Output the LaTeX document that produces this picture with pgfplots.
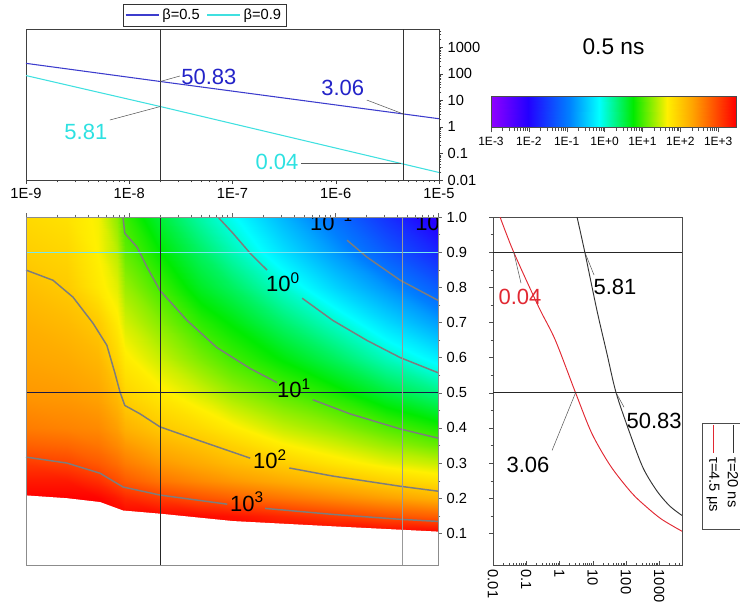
\documentclass[border=0pt]{standalone}
\usepackage{pgfplots}
\pgfplotsset{compat=1.18}
\usepackage{fontspec}
\setmainfont{Liberation Sans}
\definecolor{bl5}{RGB}{60,60,205}
\definecolor{bltext}{RGB}{35,35,200}
\definecolor{cy9}{RGB}{64,224,224}
\definecolor{cytext}{RGB}{45,225,225}
\definecolor{redline}{RGB}{225,40,50}
\definecolor{cgray}{RGB}{125,125,125}
\definecolor{hcyan}{RGB}{120,230,240}
\definecolor{hnavy}{RGB}{25,25,70}
\newcommand{\tf}{\fontsize{11}{13}\selectfont}
\newcommand{\af}{\fontsize{16.5}{19}\selectfont}
\pgfplotsset{
  /pgf/number format/assume math mode=true,
  enlargelimits=false,
  rainbowmap/.style={colormap={rb}{rgb255(0cm)=(145,0,255); rgb255(1.5cm)=(35,0,255); rgb255(3.2cm)=(0,128,255); rgb255(4.4cm)=(0,255,255); rgb255(5.8cm)=(0,235,0); rgb255(7.2cm)=(255,240,0); rgb255(8.2cm)=(255,165,0); rgb255(9.2cm)=(255,75,0); rgb255(10cm)=(255,0,0)}},
  taux/.style={xtick={1e-9,1e-8,1e-7,1e-6,1e-5},
    minor xtick={2e-9,3e-9,4e-9,5e-9,6e-9,7e-9,8e-9,9e-9,2e-8,3e-8,4e-8,5e-8,6e-8,7e-8,8e-8,9e-8,2e-7,3e-7,4e-7,5e-7,6e-7,7e-7,8e-7,9e-7,2e-6,3e-6,4e-6,5e-6,6e-6,7e-6,8e-6,9e-6}},
}
\begin{document}
\begin{tikzpicture}
\useasboundingbox (0,0) rectangle (555pt,456pt);
% ---------------- top panel ----------------
\begin{axis}[
  at={(19.5pt,321pt)}, anchor=south west, scale only axis,
  width=309.75pt, height=113.25pt,
  xmode=log, ymode=log, xmin=1e-9, xmax=1e-5, ymin=0.01, ymax=4800,
  taux, xticklabels={1E-9,1E-8,1E-7,1E-6,1E-5},
  ytick={0.01,0.1,1,10,100,1000}, yticklabels={0.01,0.1,1,10,100,1000},
  minor ytick={0.02,0.03,0.04,0.05,0.06,0.07,0.08,0.09,0.2,0.3,0.4,0.5,0.6,0.7,0.8,0.9,2,3,4,5,6,7,8,9,20,30,40,50,60,70,80,90,200,300,400,500,600,700,800,900,2000,3000,4000},
  xtick pos=left, ytick pos=right, yticklabel pos=right,
  tick align=outside, major tick length=3pt, minor tick length=1.8pt,
  tick label style={font=\tf}, axis line style={black!75}, tick style={black!75},
  legend columns=2,
  legend style={at={(0.432,1)}, anchor=south, yshift=2pt, draw=black!80, font=\tf, inner sep=1.5pt,
    /tikz/every even column/.append style={column sep=3pt}},
  legend image code/.code={\draw[#1, line width=1pt] (0pt,0pt) -- (25pt,0pt);},
]
\addplot[bl5, line width=0.8pt] coordinates {(1e-9,245) (2e-8,50.83) (4.5e-6,3.06) (1e-5,2.02)};
\addlegendentry{β=0.5}
\addplot[cy9, line width=0.8pt] coordinates {(1e-9,85) (2e-8,5.81) (4.5e-6,0.04) (1e-5,0.0192)};
\addlegendentry{β=0.9}
\addplot[black!80, forget plot] coordinates {(2e-8,0.01) (2e-8,4800)};
\addplot[black!80, forget plot] coordinates {(4.5e-6,0.01) (4.5e-6,4800)};
\addplot[black!65, forget plot] coordinates {(2e-8,50.83) (3.1e-8,82)};
\addplot[black!65, forget plot] coordinates {(4.5e-6,3.06) (2.0e-6,10.2)};
\addplot[black!65, forget plot] coordinates {(2e-8,5.81) (6.5e-9,1.81)};
\addplot[black!65, forget plot] coordinates {(4.3e-6,0.041) (4.6e-7,0.041)};
\node[font=\af, text=bltext] at (axis cs:5.9e-8,75) {50.83};
\node[font=\af, text=bltext] at (axis cs:1.17e-6,29) {3.06};
\node[font=\af, text=cytext] at (axis cs:3.8e-9,0.64) {5.81};
\node[font=\af, text=cytext] at (axis cs:2.7e-7,0.0475) {0.04};
\end{axis}
% ---------------- colour scale ----------------
\begin{axis}[
  at={(368.25pt,360.75pt)}, anchor=south west, scale only axis,
  width=183.75pt, height=23.25pt,
  xmode=log, xmin=1e-3, xmax=2951, ymin=0, ymax=1,
  xtick={1e-3,1e-2,1e-1,1,10,100,1000}, xticklabels={1E-3,1E-2,1E-1,1E+0,1E+1,1E+2,1E+3},
  minor xtick={}, ytick=\empty, xtick pos=left,
  xticklabel style={font=\fontsize{9}{10}\selectfont},
  tick align=outside, major tick length=4pt,
  axis line style={black!70}, tick style={black!70}, axis on top,
  rainbowmap, point meta min=-3, point meta max=3.47,
  title={0.5 ns}, title style={at={(0.5,1)}, anchor=base, yshift=24.75pt, font=\fontsize{17}{19}\selectfont},
]
\addplot[surf, shader=interp, mesh/cols=9, point meta=explicit] table[x=t, y=b, meta=z] {
t b z
1e-3 0 -3
9.33e-3 0 -2.03
0.1175 0 -0.93
0.703 0 -0.153
5.66 0 0.753
45.5 0 1.658
201.8 0 2.305
895 0 2.952
2951 0 3.47
1e-3 1 -3
9.33e-3 1 -2.03
0.1175 1 -0.93
0.703 1 -0.153
5.66 1 0.753
45.5 1 1.658
201.8 1 2.305
895 1 2.952
2951 1 3.47
};
\end{axis}
% ---------------- heat map ----------------
\begin{axis}[
  at={(19.5pt,32.25pt)}, anchor=south west, scale only axis,
  width=309pt, height=261pt,
  xmode=log, xmin=1e-9, xmax=1e-5, ymin=0.01, ymax=1,
  taux, xticklabels=\empty, xtick pos=right,
  ytick={0.1,0.2,0.3,0.4,0.5,0.6,0.7,0.8,0.9,1}, minor y tick num=1,
  ytick pos=right, yticklabel pos=right,
  yticklabel style={/pgf/number format/.cd, fixed, fixed zerofill, precision=1},
  tick align=outside, major tick length=3pt, minor tick length=1.8pt,
  tick label style={font=\tf}, axis line style={black!45}, tick style={black!60},
  axis on top, rainbowmap, point meta min=-3, point meta max=3.47,
]
\addplot[surf, shader=interp, mesh/cols=12, point meta=explicit] table[x=t, y=b, meta=z] {
t b z
1e-9 0.1 3.47
2.512e-9 0.1 3.47
5.012e-9 0.1 3.47
7.586e-9 0.1 3.47
9.12e-9 0.1 3.47
1.995e-8 0.1 3.47
5.012e-8 0.1 3.47
1e-7 0.1 3.47
3.162e-7 0.1 3.47
1e-6 0.1 3.47
3.162e-6 0.1 3.47
1e-5 0.1 3.47
1e-9 0.15 3.47
2.512e-9 0.15 3.47
5.012e-9 0.15 3.47
7.586e-9 0.15 3.47
9.12e-9 0.15 3.47
1.995e-8 0.15 3.45
5.012e-8 0.15 3.4
1e-7 0.15 3.35
3.162e-7 0.15 3.2
1e-6 0.15 3.05
3.162e-6 0.15 2.9
1e-5 0.15 2.8
1e-9 0.2 3.47
2.512e-9 0.2 3.47
5.012e-9 0.2 3.45
7.586e-9 0.2 3.3
9.12e-9 0.2 3.2
1.995e-8 0.2 3.05
5.012e-8 0.2 2.9
1e-7 0.2 2.8
3.162e-7 0.2 2.65
1e-6 0.2 2.5
3.162e-6 0.2 2.35
1e-5 0.2 2.2
1e-9 0.25 3.3
2.512e-9 0.25 3.3
5.012e-9 0.25 3.15
7.586e-9 0.25 2.95
9.12e-9 0.25 2.85
1.995e-8 0.25 2.65
5.012e-8 0.25 2.5
1e-7 0.25 2.4
3.162e-7 0.25 2.25
1e-6 0.25 2.1
3.162e-6 0.25 1.93
1e-5 0.25 1.8
1e-9 0.3 3.07
2.512e-9 0.3 3.0
5.012e-9 0.3 2.85
7.586e-9 0.3 2.7
9.12e-9 0.3 2.6
1.995e-8 0.3 2.4
5.012e-8 0.3 2.25
1e-7 0.3 2.12
3.162e-7 0.3 1.95
1e-6 0.3 1.75
3.162e-6 0.3 1.58
1e-5 0.3 1.45
1e-9 0.35 2.8
2.512e-9 0.35 2.75
5.012e-9 0.35 2.65
7.586e-9 0.35 2.5
9.12e-9 0.35 2.4
1.995e-8 0.35 2.2
5.012e-8 0.35 2.05
1e-7 0.35 1.92
3.162e-7 0.35 1.68
1e-6 0.35 1.5
3.162e-6 0.35 1.3
1e-5 0.35 1.12
1e-9 0.4 2.6
2.512e-9 0.4 2.55
5.012e-9 0.4 2.5
7.586e-9 0.4 2.35
9.12e-9 0.4 2.2
1.995e-8 0.4 2.0
5.012e-8 0.4 1.85
1e-7 0.4 1.7
3.162e-7 0.4 1.45
1e-6 0.4 1.27
3.162e-6 0.4 1.05
1e-5 0.4 0.85
1e-9 0.5 2.4
2.512e-9 0.5 2.37
5.012e-9 0.5 2.3
7.586e-9 0.5 2.1
9.12e-9 0.5 1.9
1.995e-8 0.5 1.71
5.012e-8 0.5 1.5
1e-7 0.5 1.3
3.162e-7 0.5 1.06
1e-6 0.5 0.84
3.162e-6 0.5 0.55
1e-5 0.5 0.3
1e-9 0.6 2.3
2.512e-9 0.6 2.25
5.012e-9 0.6 2.15
7.586e-9 0.6 1.88
9.12e-9 0.6 1.7
1.995e-8 0.6 1.46
5.012e-8 0.6 1.18
1e-7 0.6 0.98
3.162e-7 0.6 0.72
1e-6 0.6 0.42
3.162e-6 0.6 0.08
1e-5 0.6 -0.25
1e-9 0.7 2.2
2.512e-9 0.7 2.12
5.012e-9 0.7 1.98
7.586e-9 0.7 1.7
9.12e-9 0.7 1.5
1.995e-8 0.7 1.22
5.012e-8 0.7 0.9
1e-7 0.7 0.72
3.162e-7 0.7 0.37
1e-6 0.7 0.03
3.162e-6 0.7 -0.38
1e-5 0.7 -0.75
1e-9 0.8 2.08
2.512e-9 0.8 1.98
5.012e-9 0.8 1.72
7.586e-9 0.8 1.55
9.12e-9 0.8 1.3
1.995e-8 0.8 0.98
5.012e-8 0.8 0.62
1e-7 0.8 0.42
3.162e-7 0.8 0.02
1e-6 0.8 -0.42
3.162e-6 0.8 -0.8
1e-5 0.8 -1.25
1e-9 0.9 1.95
2.512e-9 0.9 1.88
5.012e-9 0.9 1.65
7.586e-9 0.9 1.4
9.12e-9 0.9 1.1
1.995e-8 0.9 0.76
5.012e-8 0.9 0.4
1e-7 0.9 0.12
3.162e-7 0.9 -0.34
1e-6 0.9 -0.78
3.162e-6 0.9 -1.25
1e-5 0.9 -1.72
1e-9 1.0 1.85
2.512e-9 1.0 1.78
5.012e-9 1.0 1.62
7.586e-9 1.0 1.25
9.12e-9 1.0 0.95
1.995e-8 1.0 0.55
5.012e-8 1.0 0.15
1e-7 1.0 -0.12
3.162e-7 1.0 -0.6
1e-6 1.0 -1.08
3.162e-6 1.0 -1.6
1e-5 1.0 -2.15
};
% white region below the map
\addplot[fill=white, draw=none] coordinates {(1e-9,0.208) (2.5e-9,0.2) (5.25e-9,0.189) (8.75e-9,0.165) (2e-8,0.156) (1.02e-7,0.135) (9.55e-7,0.12) (1e-5,0.105) (1e-5,0.0) (1e-9,0.0)} -- cycle;
% contour lines
\addplot[cgray, line width=1.1pt] coordinates {(1e-9,0.317) (2.5e-9,0.30) (5.25e-9,0.271) (8.75e-9,0.232) (2e-8,0.209) (9e-8,0.183)};
\addplot[cgray, line width=1.1pt] coordinates {(2.1e-7,0.171) (9.5e-7,0.154) (4.3e-6,0.14) (1e-5,0.134)};
\addplot[cgray, line width=1.1pt] coordinates {(1e-9,0.849) (1.83e-9,0.82) (2.86e-9,0.772) (4.47e-9,0.698) (6.1e-9,0.635) (7.3e-9,0.556) (8.2e-9,0.501) (9.1e-9,0.464) (1.28e-8,0.44) (2e-8,0.403) (4.9e-8,0.363) (1.5e-7,0.314)};
\addplot[cgray, line width=1.1pt] coordinates {(3.6e-7,0.286) (9.5e-7,0.263) (4.3e-6,0.234) (1e-5,0.22)};
\addplot[cgray, line width=1.1pt] coordinates {(8.75e-9,1.0) (9.1e-9,0.954) (1.2e-8,0.914) (1.5e-8,0.857) (2e-8,0.791) (3.66e-8,0.706) (7.1e-8,0.629) (1.5e-7,0.569) (2.74e-7,0.529)};
\addplot[cgray, line width=1.1pt] coordinates {(6.1e-7,0.48) (1.4e-6,0.44) (4.3e-6,0.397) (1e-5,0.371)};
\addplot[cgray, line width=1.1pt] coordinates {(7.3e-8,1.0) (1.02e-7,0.954) (1.5e-7,0.897) (2.19e-7,0.849)};
\addplot[cgray, line width=1.1pt] coordinates {(4.8e-7,0.769) (9.5e-7,0.706) (2.04e-6,0.649) (4.3e-6,0.60) (1e-5,0.557)};
\addplot[cgray, line width=1.1pt] coordinates {(1.31e-6,0.934) (2.04e-6,0.886) (4.3e-6,0.82) (1e-5,0.763)};
% guide lines
\addplot[hcyan, line width=0.8pt] coordinates {(1e-9,0.9) (1e-5,0.9)};
\addplot[hnavy, line width=0.8pt] coordinates {(1e-9,0.5) (1e-5,0.5)};
\addplot[black!85, line width=0.7pt] coordinates {(2e-8,0.01) (2e-8,1)};
\addplot[black!40, line width=0.7pt] coordinates {(4.5e-6,0.01) (4.5e-6,1)};
% contour labels
\node[font=\af] at (axis cs:3.13e-7,0.815) {10\textsuperscript{0}};
\node[font=\af] at (axis cs:4.0e-7,0.513) {10\textsuperscript{1}};
\node[font=\af] at (axis cs:2.34e-7,0.31) {10\textsuperscript{2}};
\node[font=\af] at (axis cs:1.4e-7,0.19) {10\textsuperscript{3}};
\pgfplotsextra{
  \begin{scope}
  \clip (rel axis cs:0,0) rectangle (rel axis cs:1,1);
  \node[font=\af, anchor=base west, inner sep=0pt] at (axis cs:5.7e-7,0.963) {10\textsuperscript{−1}};
  \node[font=\af, anchor=base west, inner sep=0pt] at (axis cs:5.98e-6,0.963) {10\textsuperscript{−2}};
  \end{scope}
}
\end{axis}
% ---------------- right panel ----------------
\begin{axis}[
  at={(369.75pt,32.25pt)}, anchor=south west, scale only axis,
  width=141.75pt, height=261pt,
  xmode=log, xmin=0.01, xmax=4900, ymin=0.01, ymax=1,
  xtick={0.01,0.1,1,10,100,1000}, xticklabels={0.01,0.1,1,10,100,1000},
  minor xtick={0.02,0.03,0.04,0.05,0.06,0.07,0.08,0.09,0.2,0.3,0.4,0.5,0.6,0.7,0.8,0.9,2,3,4,5,6,7,8,9,20,30,40,50,60,70,80,90,200,300,400,500,600,700,800,900,2000,3000,4000},
  xtick pos=left,
  ytick={0.1,0.2,0.3,0.4,0.5,0.6,0.7,0.8,0.9,1}, minor y tick num=1,
  yticklabels=\empty, ytick pos=left,
  tick align=inside, ytick align=outside, major tick length=3pt, minor tick length=1.8pt,
  xticklabel style={font=\tf, rotate=-90, anchor=west},
  axis line style={black!70}, tick style={black!70},
]
\addplot[black!80, line width=0.7pt, smooth] coordinates {(3.39,1.0) (5.81,0.9) (13.5,0.734) (27,0.611) (50.83,0.5) (134,0.383) (331,0.286) (871,0.22) (2140,0.177) (4900,0.151)};
\addplot[redline, line width=0.7pt, smooth] coordinates {(0.0163,1.0) (0.042,0.9) (0.235,0.745) (0.75,0.65) (3.06,0.5) (9.5,0.384) (35,0.291) (150,0.215) (420,0.175) (1200,0.14) (4900,0.106)};
\addplot[black!85] coordinates {(0.01,0.9) (4900,0.9)};
\addplot[black!85] coordinates {(0.01,0.5) (4900,0.5)};
\addplot[black!65] coordinates {(0.042,0.9) (0.0697,0.812)};
\addplot[black!65] coordinates {(5.81,0.9) (11,0.835)};
\addplot[black!65] coordinates {(50.83,0.5) (88,0.459)};
\addplot[black!65] coordinates {(3.06,0.5) (0.6,0.336)};
\node[font=\af, text=redline] at (axis cs:0.065,0.772) {0.04};
\node[font=\af] at (axis cs:47,0.80) {5.81};
\node[font=\af] at (axis cs:708,0.42) {50.83};
\node[font=\af] at (axis cs:0.113,0.296) {3.06};
\end{axis}
% ---------------- rotated legend of the right panel ----------------
\draw[black!70, fill=white] (526.5pt,59.25pt) rectangle (562pt,138.75pt);
\draw[black!80, line width=0.7pt] (549.75pt,137.25pt) -- (549.75pt,116.25pt);
\node[rotate=-90, anchor=west, font=\tf, inner sep=0pt] at (549.75pt,113.25pt) {τ=20 ns};
\draw[redline, line width=0.7pt] (534.75pt,137.25pt) -- (534.75pt,116.25pt);
\node[rotate=-90, anchor=west, font=\tf, inner sep=0pt] at (534.75pt,113.25pt) {τ=4.5 μs};
\end{tikzpicture}
\end{document}
